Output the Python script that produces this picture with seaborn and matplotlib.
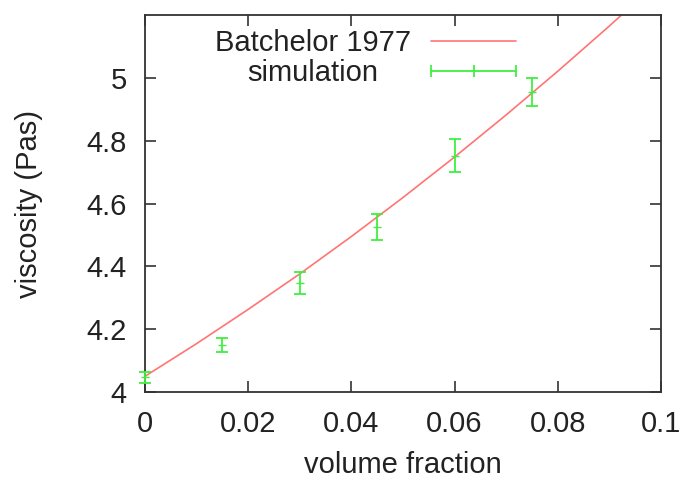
import matplotlib
matplotlib.use('Agg')
import matplotlib.pyplot as plt
import numpy as np
import pandas as pd
import seaborn as sns
from matplotlib.lines import Line2D
from matplotlib.legend_handler import HandlerLine2D, HandlerTuple

sns.set_style('ticks')
plt.rcParams['font.family'] = ['Liberation Sans', 'DejaVu Sans']

# Batchelor 1977 curve
curve_phi = [0.0, 0.01, 0.02, 0.03, 0.04, 0.05, 0.06, 0.07, 0.08, 0.09, 0.10]
curve_visc = [4.050, 4.154, 4.263, 4.376, 4.495, 4.619, 4.748, 4.882, 5.021, 5.165, 5.314]

# simulation points with error bars
sim_phi = [0.0, 0.015, 0.03, 0.045, 0.06, 0.075]
sim_visc = [4.047, 4.150, 4.347, 4.525, 4.752, 4.955]
sim_err = [0.018, 0.022, 0.034, 0.041, 0.052, 0.044]

red = '#ff7474'
green = '#3ff03f'
ink = '#222222'

curve = pd.DataFrame({'phi': curve_phi, 'visc': curve_visc})

fig = plt.figure(figsize=(6.81, 4.79), dpi=100)
ax = fig.add_axes([0.2129, 0.1816, 0.7577, 0.7871])

sns.lineplot(data=curve, x='phi', y='visc', color=red, lw=1.2, ax=ax, legend=False)
ax.errorbar(sim_phi, sim_visc, yerr=sim_err, fmt='_', ms=6, color=green,
            ecolor=green, elinewidth=1.3, capsize=4, capthick=1.3, clip_on=False, zorder=3)

ax.set_xlim(0, 0.1)
ax.set_ylim(4, 5.2)
ax.set_xticks([0, 0.02, 0.04, 0.06, 0.08, 0.1])
ax.set_xticklabels(['0', '0.02', '0.04', '0.06', '0.08', '0.1'])
ax.set_yticks([4, 4.2, 4.4, 4.6, 4.8, 5])
ax.set_yticklabels(['4', '4.2', '4.4', '4.6', '4.8', '5'])

ax.tick_params(direction='in', length=8, width=1.2, color='#333333', labelsize=21,
               top=True, right=True, labelcolor=ink)
ax.tick_params(axis='x', pad=13)
ax.tick_params(axis='y', pad=13)
for s in ax.spines.values():
    s.set_color('#333333')
    s.set_linewidth(1.3)

ax.set_xlabel('volume fraction', fontsize=21, color=ink, labelpad=9)
ax.set_ylabel('viscosity (Pas)', fontsize=21, color=ink, labelpad=31)

# gnuplot style key
line_key = Line2D([], [], color=red, lw=1.2)
caps_key = Line2D([], [], color=green, lw=1.3, marker='|', ms=9, mew=1.3)
mid_key = Line2D([], [], color=green, ls='none', marker='|', ms=9, mew=1.3)
leg = ax.legend([line_key, (caps_key, mid_key)], ['Batchelor 1977', 'simulation'],
                handler_map={caps_key: HandlerLine2D(marker_pad=0, numpoints=2),
                             mid_key: HandlerLine2D(numpoints=1),
                             tuple: HandlerTuple(ndivide=1)},
                markerfirst=False, frameon=False, loc='upper right',
                bbox_to_anchor=(0.719, 0.962), borderpad=0, borderaxespad=0,
                handlelength=2.9, handletextpad=0.7, labelspacing=0.07, fontsize=21,
                labelcolor=ink)

# key texts are centred on each other, like the original
fig.canvas.draw()
r = fig.canvas.get_renderer()
t_b, t_s = leg.get_texts()
shift = (t_b.get_window_extent(r).width - t_s.get_window_extent(r).width) / 2
t_s.set_x(-shift)

plt.savefig('out.png', dpi=100)
